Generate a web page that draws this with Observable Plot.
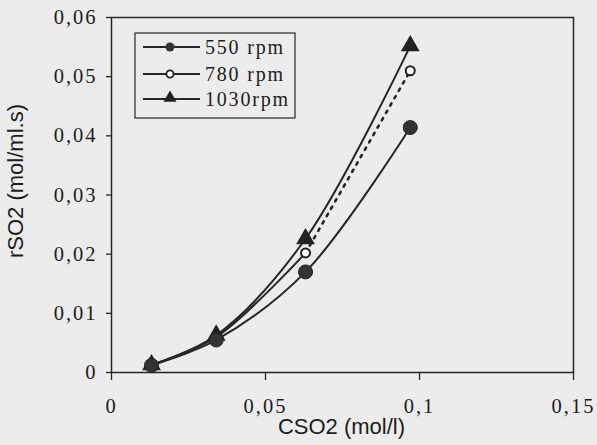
<!DOCTYPE html>
<html>
<head>
<meta charset="utf-8">
<script src="https://cdn.jsdelivr.net/npm/d3@7"></script>
<script src="https://cdn.jsdelivr.net/npm/@observablehq/plot@0.6"></script>
<style>
  html, body { margin: 0; padding: 0; background: #ececec; }
  #chart { width: 597px; height: 445px; }
  #chart svg text { font-family: 'Liberation Serif', 'Times New Roman', serif; font-variant: normal; }
  #chart svg .sanslabel text { font-family: 'Liberation Sans', Arial, sans-serif; font-size: 22px; }
  #chart svg .legend text { text-anchor: start; font-size: 20px; letter-spacing: 1.8px; }
  #chart svg g[aria-label="y-axis tick label"] text,
  #chart svg g[aria-label="x-axis tick label"] text { font-size: 20.5px; letter-spacing: 2px; fill: #1c1c1c; }
</style>
</head>
<body>
<div id="chart"></div>
<script>
// ---- data ----
const cso2 = [0.013, 0.034, 0.063, 0.097];
const r550 = [0.0012, 0.0055, 0.0170, 0.0414];
const r780 = [0.0013, 0.0060, 0.0202, 0.0510];
const r1030 = [0.0013, 0.0063, 0.0226, 0.0552];
const seriesNames = ["550 rpm", "780 rpm", "1030rpm"];
const xTicks = [0, 0.05, 0.1, 0.15];
const yTicks = [0, 0.01, 0.02, 0.03, 0.04, 0.05, 0.06];
const xLabel = "CSO2 (mol/l)";
const yLabel = "rSO2 (mol/ml.s)";

const values = [r550, r780, r1030];
const rows = [];
values.forEach((arr, s) => arr.forEach((v, i) => rows.push({series: seriesNames[s], i, x: cso2[i], y: v})));
const S = name => rows.filter(d => d.series === name);

const fmt = d => d === 0 ? "0" : String(d).replace(".", ",");
const ink = "#262626";

const plot = Plot.plot({
  width: 597,
  height: 445,
  marginLeft: 111,
  marginRight: 24,
  marginTop: 17,
  marginBottom: 73,
  style: {background: "#ececec", fontSize: "20px", color: ink},
  x: {domain: [0, 0.15]},
  y: {domain: [0, 0.06]},
  marks: [
    Plot.axisY({ticks: yTicks, tickSize: 5, tickPadding: 9, tickFormat: fmt, label: null,
      fontSize: 20.5, stroke: ink, strokeWidth: 1.3}),
    Plot.axisX({ticks: xTicks, tickSize: 8, tickPadding: 18, tickFormat: fmt, label: null,
      fontSize: 20.5, stroke: ink, strokeWidth: 1.3}),
    Plot.frame({stroke: ink, strokeWidth: 1.5}),
    Plot.line(S("550 rpm"), {x: "x", y: "y", curve: "catmull-rom", stroke: ink, strokeWidth: 2}),
    Plot.line(S("1030rpm"), {x: "x", y: "y", curve: "catmull-rom", stroke: ink, strokeWidth: 2}),
    Plot.line(S("780 rpm").filter(d => d.i <= 2), {x: "x", y: "y", curve: "catmull-rom", stroke: ink, strokeWidth: 2}),
    Plot.line(S("780 rpm").filter(d => d.i >= 2), {x: "x", y: "y", stroke: ink, strokeWidth: 2.6,
      strokeDasharray: "2.5,6", strokeLinecap: "round"}),
    Plot.dot(S("780 rpm"), {x: "x", y: "y", r: 4.5, fill: "white", stroke: "#222", strokeWidth: 2}),
    Plot.dot(S("1030rpm"), {x: "x", y: "y", r: 7, symbol: "triangle", fill: "#222"}),
    Plot.dot(S("550 rpm"), {x: "x", y: "y", r: 7, fill: "#333", stroke: "#222", strokeWidth: 1}),
    Plot.text([yLabel], {frameAnchor: "left", dx: -96, dy: -14, rotate: -90, textAnchor: "middle",
      lineAnchor: "middle", fontSize: 22, fill: "#1c1c1c", className: "sanslabel"}),
    Plot.text([xLabel], {frameAnchor: "bottom", dx: -1, dy: 54, textAnchor: "middle",
      lineAnchor: "middle", fontSize: 22, fill: "#1c1c1c", className: "sanslabel"})
  ]
});
document.getElementById("chart").appendChild(plot);

// ---- legend (inside the plot area, top-left) ----
const svg = d3.select(plot);
const lg = svg.append("g").attr("class", "legend").attr("transform", "translate(135,33)");
lg.append("rect").attr("width", 160).attr("height", 85)
  .attr("fill", "#ececec").attr("stroke", ink).attr("stroke-width", 1.2);
const ys = [14, 41, 66];
seriesNames.forEach((name, k) => {
  const g = lg.append("g").attr("transform", `translate(0,${ys[k]})`);
  g.append("line").attr("x1", 8).attr("x2", 65).attr("stroke", ink).attr("stroke-width", 2);
  if (k === 0) g.append("circle").attr("cx", 35).attr("r", 4.5).attr("fill", "#333");
  if (k === 1) g.append("circle").attr("cx", 35).attr("r", 3.6).attr("fill", "white").attr("stroke", "#222").attr("stroke-width", 1.8);
  if (k === 2) g.append("path").attr("transform", "translate(35,-1)").attr("d", d3.symbol(d3.symbolTriangle, 75)()).attr("fill", "#222");
  g.append("text").attr("x", 70).attr("y", 6.5).attr("text-anchor", "start")
    .attr("fill", "#1c1c1c").text(name);
});
</script>
</body>
</html>
